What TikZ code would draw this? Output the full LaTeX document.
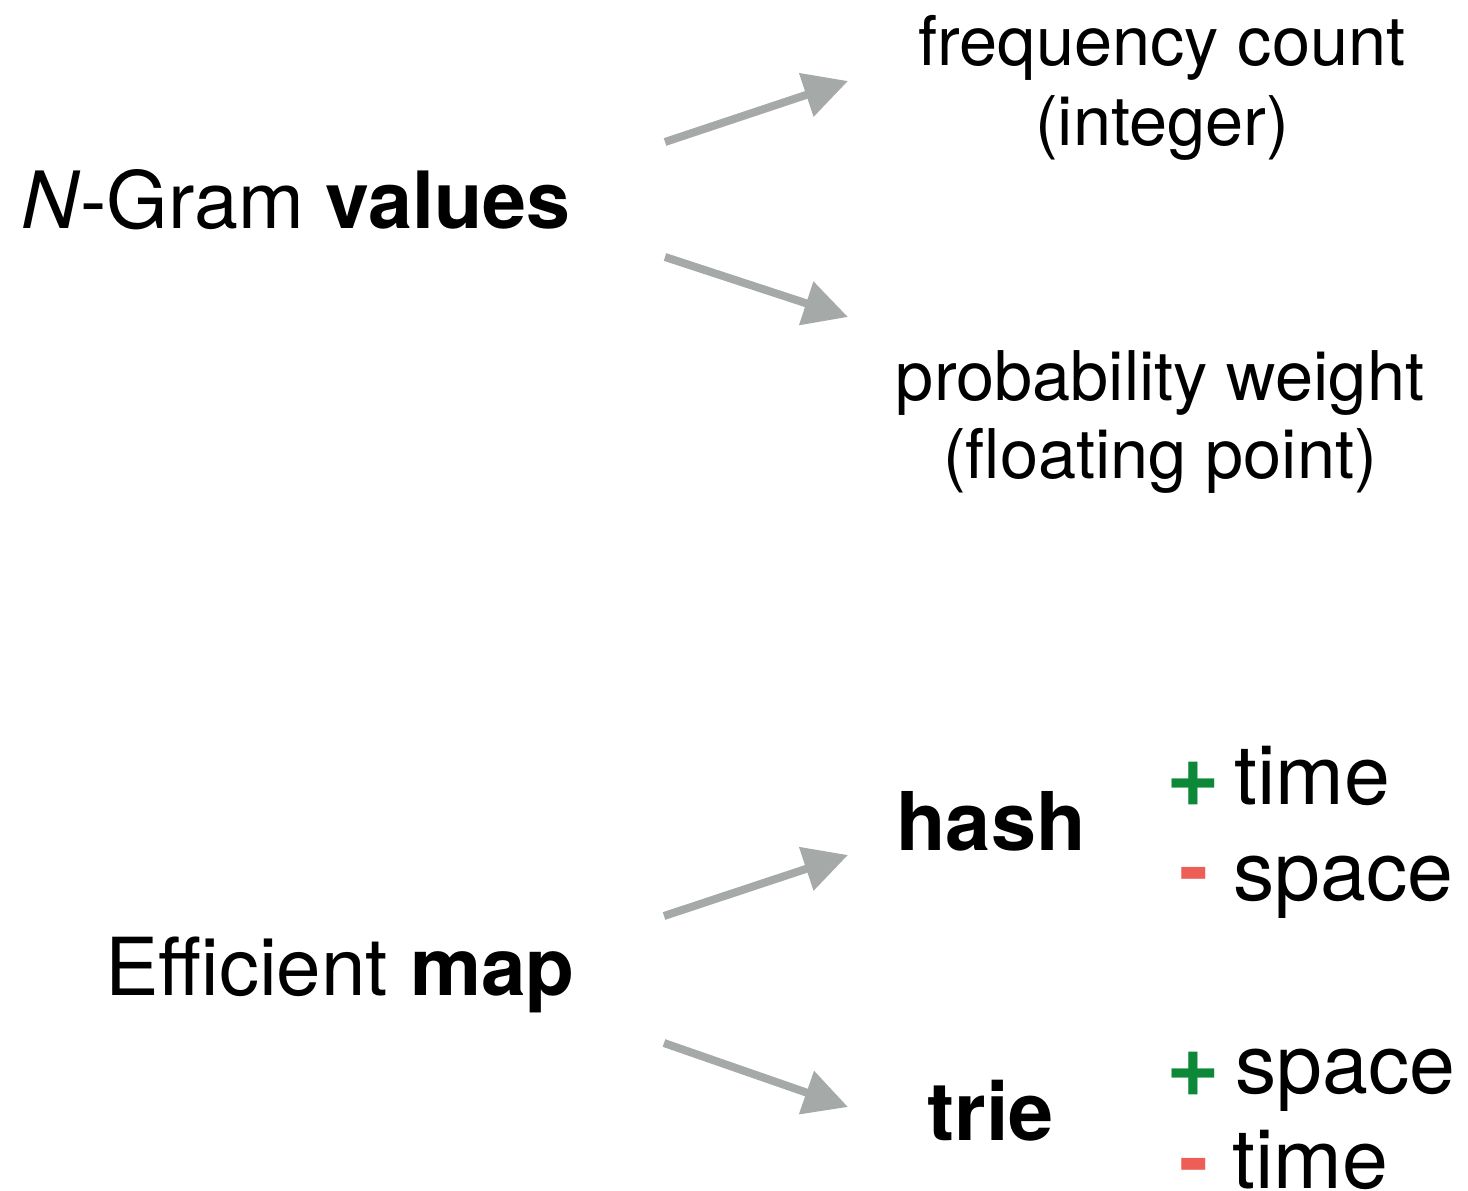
\documentclass[tikz,border=0pt]{standalone}
\usepackage{fontspec}
\setmainfont{TeX Gyre Heros}
\usetikzlibrary{arrows.meta}
\definecolor{arrowgray}{RGB}{165,169,167}
\definecolor{plusgreen}{RGB}{12,136,56}
\definecolor{minusred}{RGB}{236,94,86}
\tikzset{
  big/.style={inner sep=0pt, font=\fontsize{80}{94}\selectfont},
  sub/.style={inner sep=0pt, font=\fontsize{68.5}{80}\selectfont},
  side/.style={inner sep=0pt, font=\fontsize{82.5}{94}\selectfont},
  pro/.style={inner sep=0pt, text=plusgreen, font=\fontsize{92}{100}\selectfont\bfseries},
  con/.style={inner sep=0pt, text=minusred, font=\fontsize{88}{100}\selectfont\bfseries},
  fatarrow/.style={draw=arrowgray, line width=8pt,
    -{Triangle[length=44pt, width=44pt]}},
}
\begin{document}
\begin{tikzpicture}[x=1pt, y=-1pt]
\useasboundingbox (0,0) rectangle (1468,1191);

% upper group: what an N-gram stores
\node[big, anchor=base west, font=\fontsize{79}{94}\selectfont] (values) at (21,228) {\textit{N}-Gram \textbf{values}};
\node[sub, anchor=base] (freq) at (1162,65) {frequency count};
\node[sub, anchor=base] (freqtype) at (1162,145) {(integer)};
\node[sub, anchor=base] (prob) at (1160,400) {probability weight};
\node[sub, anchor=base] (probtype) at (1160,478) {(floating point)};

\coordinate (v1) at (665,142);
\coordinate (f1) at (848,81);
\coordinate (v2) at (665,257);
\coordinate (p1) at (848,317);
\draw[fatarrow] (v1) -- (f1);
\draw[fatarrow] (v2) -- (p1);

% lower group: choice of map structure
\node[big, anchor=base west] (map) at (105,995) {Efficient \textbf{map}};
\node[big, anchor=base, font=\fontsize{81}{94}\selectfont] (hash) at (991,850) {\textbf{hash}};
\node[big, anchor=base, font=\fontsize{81}{94}\selectfont] (trie) at (991,1140) {\textbf{trie}};

\coordinate (m1) at (664,916);
\coordinate (h1) at (848,855);
\coordinate (m2) at (664,1043);
\coordinate (t1) at (848,1107);
\draw[fatarrow] (m1) -- (h1);
\draw[fatarrow] (m2) -- (t1);

% trade-offs
\node[pro] (hplus) at (1193,784) {+};
\node[side, anchor=base west] (htime) at (1234,804) {time};
\node[con] (hminus) at (1194,882) {-};
\node[side, anchor=base west] (hspace) at (1233,900) {space};

\node[pro] (tplus) at (1193,1074) {+};
\node[side, anchor=base west] (tspace) at (1235,1093) {space};
\node[con] (tminus) at (1194,1173) {-};
\node[side, anchor=base west] (ttime) at (1232,1188) {time};
\end{tikzpicture}
\end{document}
